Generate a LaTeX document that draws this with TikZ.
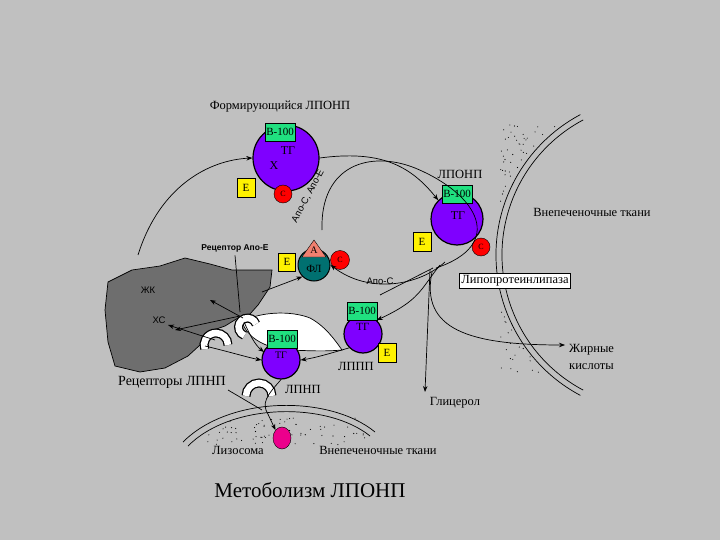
\documentclass[tikz,border=0pt]{standalone}
\usepackage{fontspec}
\setmainfont{Liberation Serif}
\newfontfamily\sansf{Liberation Sans}
\usetikzlibrary{arrows.meta,shapes.geometric}
\definecolor{bg}{HTML}{C0C0C0}
\definecolor{liver}{HTML}{6E6E6E}
\definecolor{purp}{HTML}{7F00FF}
\definecolor{grn}{HTML}{20E080}
\definecolor{tealc}{HTML}{007070}
\definecolor{salm}{HTML}{F08070}
\begin{document}
\begin{tikzpicture}[x=1pt,y=-1pt,
  lbl/.style={font=\fontsize{12.5}{14}\selectfont,inner sep=1pt},
  ball/.style={circle,draw,fill=purp,line width=1.2pt,inner sep=0pt},
  bbox/.style={draw,fill=grn,font=\fontsize{11}{12}\selectfont,inner sep=1.5pt,minimum height=18pt},
  ebox/.style={draw,fill=yellow,font=\fontsize{11}{12}\selectfont,minimum width=18pt,minimum height=19pt,inner sep=0pt},
  cball/.style={circle,draw,fill=red,minimum size=18pt,inner sep=0pt,font=\fontsize{8}{9}\selectfont},
  arr/.style={-{Stealth[length=6pt]},line width=0.7pt},
  ln/.style={line width=0.7pt}]
\fill[bg] (0,0) rectangle (720,540);
\useasboundingbox (0,0) rectangle (720,540);
\pgfmathsetseed{7}
% tissues
\foreach \i in {1,...,420}{
  \pgfmathsetmacro{\yy}{125+250*rnd}
  \pgfmathsetmacro{\xx}{500+76*rnd}
  \pgfmathparse{veclen(\xx-655,\yy-255)>161 ? 1 : 0}
  \ifnum\pgfmathresult=1 \fill (\xx,\yy) circle (0.55);\fi}
\draw[ln] (655,255) ++(118:153) arc[start angle=118,end angle=242,radius=153];
\draw[ln] (655,255) ++(118:159) arc[start angle=118,end angle=242,radius=159];
\draw[ln] (183,442) .. controls (230,395) and (330,395) .. (375,432);
\draw[ln] (188,446) .. controls (232,402) and (328,402) .. (370,436);
\foreach \i in {1,...,70}{
  \pgfmathsetmacro{\xx}{200+165*rnd}
  \pgfmathsetmacro{\yy}{418+28*rnd}
  \fill (\xx,\yy) circle (0.55);}
% liver
\draw[fill=liver,ln] (108,282) -- (132,270) -- (160,266) -- (185,258) -- (210,264) -- (232,270) -- (272,270) -- (270,287) -- (258,305) -- (250,314) -- (238,318) -- (225,326) -- (208,332) -- (200,345) -- (188,356) -- (165,368) -- (140,372) -- (115,366) -- (108,342) -- (105,310) -- cycle;
% white blob
\draw[fill=white,ln] (242,322) .. controls (258,312) and (290,310) .. (310,318) .. controls (325,326) and (335,340) .. (342,350) .. controls (320,352) and (300,350) .. (282,350) .. controls (262,345) and (248,338) .. (242,322);
% receptors
\draw[line width=9pt] (256,324) arc[start angle=-20,end angle=-250,radius=9];
\draw[line width=6.5pt,white] (256,324) arc[start angle=-20,end angle=-250,radius=9];
\draw[line width=9pt] (228,345) arc[start angle=0,end angle=-200,radius=12];
\draw[line width=6.5pt,white] (228,345) arc[start angle=0,end angle=-200,radius=12];
\draw[line width=9pt] (246,396) arc[start angle=-180,end angle=0,radius=13];
\draw[line width=6.5pt,white] (246,396) arc[start angle=-180,end angle=0,radius=13];
% balls
\node[ball,minimum size=66pt] (b1) at (286,158) {};
\node[font=\fontsize{12}{13}\selectfont] at (288,151) {ТГ};
\node[font=\fontsize{12}{13}\selectfont] at (274,166) {Х};
\node[bbox] (b1b) at (280,132) {B-100};
\node[ebox] (b1e) at (246,188) {E};
\node[cball] (b1c) at (283,194) {С};
\node[ball,minimum size=52pt] (b2) at (457,219) {};
\node[font=\fontsize{12}{13}\selectfont] at (458,216) {ТГ};
\node[bbox] (b2b) at (457,194) {B-100};
\node[ebox] (b2e) at (422,242) {E};
\node[cball] (b2c) at (481,247) {С};
\node[circle,draw,fill=tealc,minimum size=32pt,inner sep=0pt,line width=1pt] (fl) at (314,265) {};
\node[font=\fontsize{11}{12}\selectfont] at (314,269) {ФЛ};
\draw[fill=salm] (314,240) -- (302,257) -- (326,257) -- cycle;
\node[font=\fontsize{10}{11}\selectfont] at (314,250) {А};
\node[ebox,minimum height=18pt,minimum width=17pt] (fle) at (287,262) {E};
\node[cball,minimum size=19pt] (flc) at (340,260) {С};
\node[ball,minimum size=38pt] (b3) at (363,334) {};
\node[font=\fontsize{11}{12}\selectfont] at (363,327) {ТГ};
\node[bbox] (b3b) at (362,311) {B-100};
\node[ebox] (b3e) at (387,353) {E};
\node[ball,minimum size=38pt] (b4) at (281,360) {};
\node[font=\fontsize{10}{11}\selectfont] at (281,355) {ТГ};
\node[bbox] (b4b) at (282,339) {B-100};
\node[ellipse,draw,fill=magenta,minimum width=18pt,minimum height=22pt,inner sep=0pt] (lys) at (282,438) {};
\node[draw,fill=white,lbl,inner sep=2pt] (lpl) at (515,281) {Липопротеинлипаза};
% labels
\node[lbl] at (280,107) {Формирующийся ЛПОНП};
\node[lbl] at (460,174) {ЛПОНП};
\node[lbl] at (592,212) {Внепеченочные ткани};
\node[lbl,anchor=west] at (568,350) {Жирные};
\node[lbl,anchor=west] at (568,367) {кислоты};
\node[lbl] at (455,403) {Глицерол};
\node[lbl] (lppp) at (356,366) {ЛППП};
\node[lbl] (lpnp) at (303,389) {ЛПНП};
\node[font=\fontsize{14}{15}\selectfont] at (172,382) {Рецепторы ЛПНП};
\node[lbl] at (238,450) {Лизосома};
\node[lbl] at (378,450) {Внепеченочные ткани};
\node[font=\fontsize{21}{23}\selectfont] at (310,490) {Метоболизм ЛПОНП};
\node[font=\sansf\bfseries\fontsize{8.5}{9}\selectfont] (rae) at (235,248) {Рецептор Апо-Е};
\node[font=\sansf\fontsize{9.5}{10}\selectfont] at (380,281) {Апо-С};
\node[font=\sansf\fontsize{9.5}{10}\selectfont,rotate=62] at (308,196) {Апо-С, Апо-Е};
\node[font=\sansf\fontsize{9.5}{10}\selectfont] (zk) at (148,290) {ЖК};
\node[font=\sansf\fontsize{9.5}{10}\selectfont] (xc) at (159,320) {ХС};
% arrows
\draw[arr] (138,255) .. controls (160,185) and (210,160) .. (b1.west);
\draw[arr] (b1.east) .. controls (380,150) and (410,165) .. (b2.north west);
\draw[ln] (322,230) .. controls (320,165) and (370,150) .. (415,168);
\draw[ln] (415,168) .. controls (480,195) and (505,245) .. (436,268);
\draw[arr] (445,262) .. controls (420,285) and (370,295) .. (fl.east);
\draw[arr] (440,265) .. controls (420,290) and (420,300) .. (b3.north east);
\draw[arr] (430,270) -- (425,392);
\draw[arr] (432,272) .. controls (420,330) and (470,345) .. (565,345);
\draw[ln] (433,268) -- (380,295);
\draw[arr] (262,292) -- (fl.south west);
\draw[ln] (rae.south) -- (240,312);
\draw[arr] (240,316) -- (175,330);
\draw[arr] (243,318) -- (210,300);
\draw[arr] (215,340) -- (168,325);
\draw[arr] (205,346) .. controls (230,352) and (250,358) .. (b4.west);
\draw[arr] (b3.south west) .. controls (335,352) and (315,358) .. (b4.east);
\draw[arr] (244,322) .. controls (250,335) and (255,345) .. (264,352);
\draw[ln] (b4.south) .. controls (272,390) and (262,400) .. (266,410);
\draw[ln] (228,390) -- (262,410);
\draw[arr] (266,410) -- (lys.north west);
\end{tikzpicture}
\end{document}
